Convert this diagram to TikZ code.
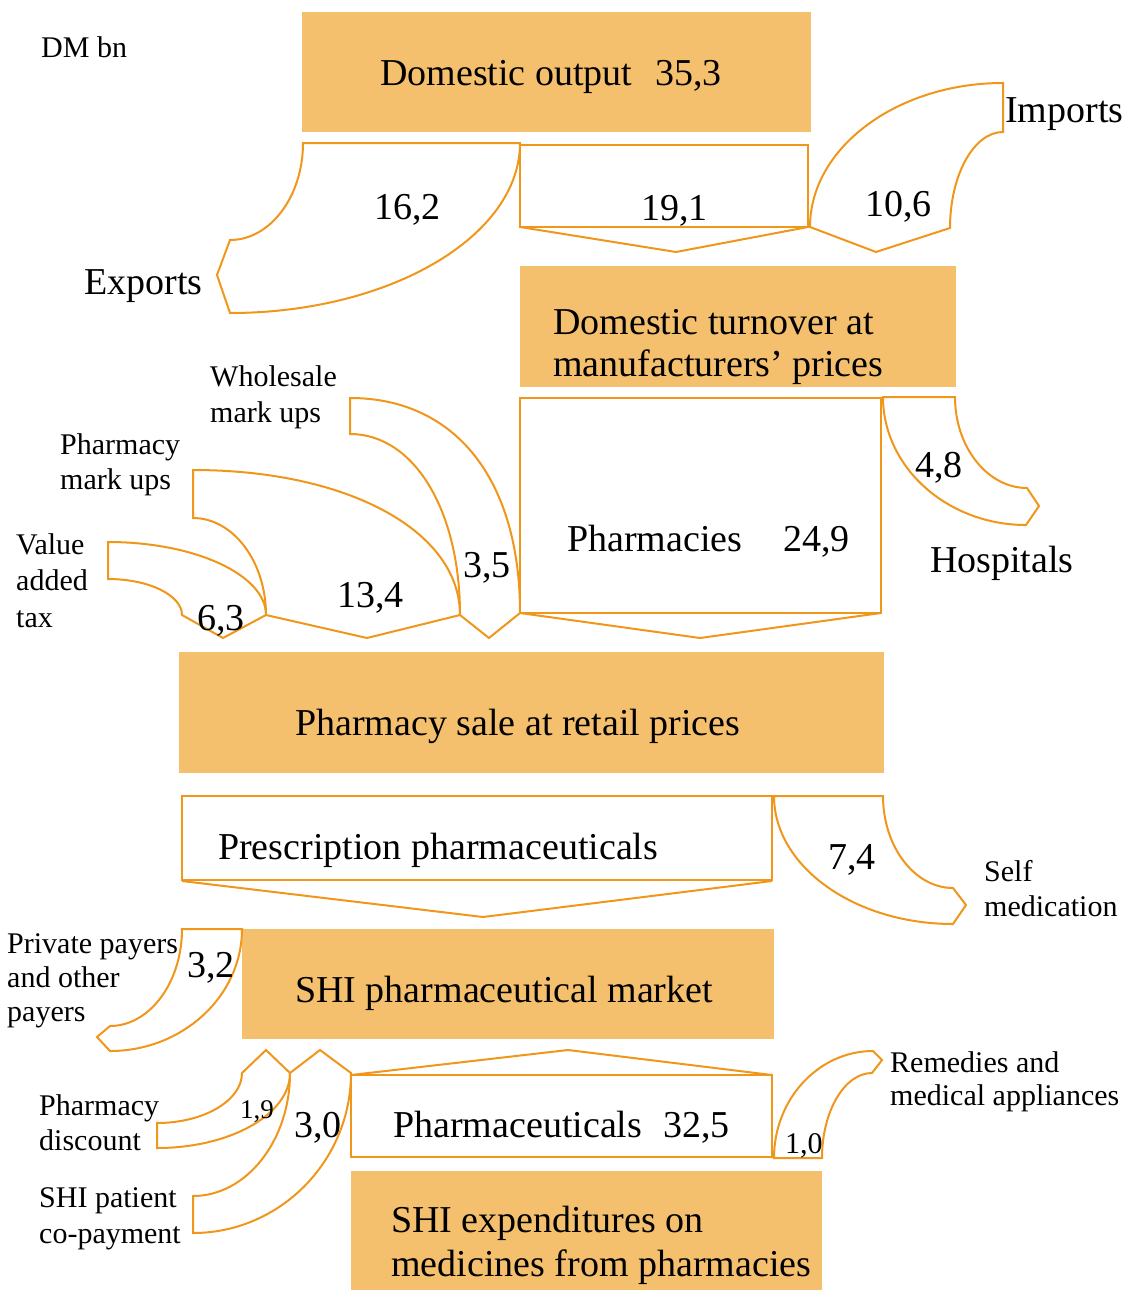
\documentclass[tikz,border=0pt]{standalone}
\usepackage{fontspec}
\setmainfont{Liberation Serif}
\definecolor{boxfill}{HTML}{F5C06E}
\definecolor{flowline}{HTML}{F0961A}
\tikzset{
  panel/.style={fill=boxfill, draw=none},
  flow/.style={draw=flowline, line width=2pt, line join=miter},
  big/.style={inner sep=0pt, anchor=base west, font=\fontsize{38}{43}\selectfont},
  lab/.style={inner sep=0pt, anchor=base west, font=\fontsize{30}{35}\selectfont},
  small/.style={inner sep=0pt, anchor=base west, font=\fontsize{27}{32}\selectfont},
}
\begin{document}
\begin{tikzpicture}[x=1pt,y=-1pt]
\useasboundingbox (0,0) rectangle (1122,1290);

% filled stages
\fill[panel] (302,12) rectangle (811,132);
\fill[panel] (520,266) rectangle (956,387);
\fill[panel] (179,652) rectangle (884,773);
\fill[panel] (242,929) rectangle (774,1039);
\fill[panel] (351,1171) rectangle (822,1290);

% exports
\draw[flow] (303,143) -- (520,143)
  .. controls (520,236.5) and (389.5,313) .. (230,313)
  -- (217,275) -- (230,240)
  .. controls (270.2,240) and (303,196.4) .. (303,143) -- cycle;
% domestic share
\draw[flow] (520,145) rectangle (808,227);
\draw[flow] (520,227) -- (676,252) -- (808,227);
% imports
\draw[flow] (810,227)
  .. controls (810,147.8) and (896.9,83) .. (1003,83)
  -- (1003,132)
  .. controls (973.8,132) and (950,175.2) .. (950,228)
  -- (876,252) -- cycle;

% pharmacies
\draw[flow] (520,398) rectangle (881,613);
\draw[flow] (520,613) -- (700,638) -- (881,613);
% hospitals
\draw[flow] (883,397) -- (955,397)
  .. controls (955,447) and (987.4,488) .. (1027,488)
  -- (1039,506) -- (1026,525)
  .. controls (947.4,525) and (883,467.4) .. (883,397) -- cycle;

% wholesale mark ups
\draw[flow] (350,398)
  .. controls (455.4,398) and (520,479.7) .. (520,613)
  -- (489,638) -- (460,615)
  .. controls (460,510) and (413.8,434) .. (350,434) -- cycle;
% pharmacy mark ups
\draw[flow] (193,470)
  .. controls (347.9,470) and (460,530.9) .. (460,615)
  -- (367,638) -- (266,615)
  .. controls (266,561.7) and (233.2,518) .. (193,518) -- cycle;
% value added tax
\draw[flow] (108,542)
  .. controls (194.9,542) and (266,574.9) .. (266,615)
  -- (223,638) -- (182,615)
  .. controls (182,595.2) and (148.7,579) .. (108,579) -- cycle;

% prescription pharmaceuticals
\draw[flow] (182,796) rectangle (772,880);
\draw[flow] (182,881) -- (483,917) -- (772,881);
% self medication
\draw[flow] (774,796) -- (883,796)
  .. controls (883,846.6) and (914.5,888) .. (953,888)
  -- (966,905) -- (953,924)
  .. controls (854.5,924) and (774,866.4) .. (774,796) -- cycle;

% private payers
\draw[flow] (182,929) -- (242,929)
  .. controls (242,996.1) and (182.6,1051) .. (110,1051)
  -- (97,1037) -- (110,1026)
  .. controls (149.6,1026) and (182,982.4) .. (182,929) -- cycle;
% pharmacy discount
\draw[flow] (242,1073) -- (266,1050) -- (290,1073)
  .. controls (290,1114.3) and (230.2,1148) .. (157,1148)
  -- (157,1123)
  .. controls (203.8,1123) and (242,1100.5) .. (242,1073) -- cycle;
% patient co-payment
\draw[flow] (290,1073) -- (320,1050) -- (351,1073)
  .. controls (351,1161) and (279.9,1233) .. (193,1233)
  -- (193,1196)
  .. controls (246.4,1196) and (290,1140.7) .. (290,1073) -- cycle;
% pharmaceuticals
\draw[flow] (351,1075) rectangle (772,1157);
\draw[flow] (351,1075) -- (568,1050) -- (772,1075);
% remedies and appliances
\draw[flow] (774,1158) -- (822,1158)
  .. controls (822,1111.3) and (844.5,1073) .. (872,1073)
  -- (882,1060) -- (873,1051)
  .. controls (818.5,1051) and (774,1099.2) .. (774,1158) -- cycle;

% texts
\node[lab] (dm) at (41,58) {DM bn};
\node[big] (dout) at (380,85) {Domestic output};
\node[big] (dout353) at (655,85) {35,3};
\node[big] (v162) at (374,219) {16,2};
\node[big] (v191) at (641,220) {19,1};
\node[big] (v106) at (865,216) {10,6};
\node[big] (imp) at (1005,122) {Imports};
\node[big] (expo) at (84,294) {Exports};
\node[big] (dt1) at (553,334) {Domestic turnover at};
\node[big] (dt2) at (553,376) {manufacturers’ prices};
\node[lab] (wh1) at (210,386) {Wholesale};
\node[lab] (wh2) at (210,422) {mark ups};
\node[lab] (pm1) at (60,454) {Pharmacy};
\node[lab] (pm2) at (60,489) {mark ups};
\node[lab] (va1) at (16,554) {Value};
\node[lab] (va2) at (16,590) {added};
\node[lab] (va3) at (16,627) {tax};
\node[big] (ph) at (567,551) {Pharmacies};
\node[big] (ph249) at (783,551) {24,9};
\node[big] (v48) at (915,477) {4,8};
\node[big] (hosp) at (930,572) {Hospitals};
\node[big] (v63) at (197,630) {6,3};
\node[big] (v134) at (337,607) {13,4};
\node[big] (v35) at (463,577) {3,5};
\node[big] (sale) at (295,735) {Pharmacy sale at retail prices};
\node[big] (presc) at (218,859) {Prescription pharmaceuticals};
\node[big] (v74) at (828,869) {7,4};
\node[lab] (sm1) at (984,881) {Self};
\node[lab] (sm2) at (984,916) {medication};
\node[lab] (pp1) at (7,953) {Private payers};
\node[lab] (pp2) at (7,987) {and other};
\node[lab] (pp3) at (7,1021) {payers};
\node[big] (v32) at (187,977) {3,2};
\node[big] (shi) at (295,1002) {SHI pharmaceutical market};
\node[lab] (pd1) at (39,1115) {Pharmacy};
\node[lab] (pd2) at (39,1150) {discount};
\node[lab] (cp1) at (39,1207) {SHI patient};
\node[lab] (cp2) at (39,1243) {co-payment};
\node[small] (v19) at (240,1118) {1,9};
\node[big] (v30) at (294,1137) {3,0};
\node[big] (pharm) at (393,1137) {Pharmaceuticals};
\node[big] (v325) at (663,1137) {32,5};
\node[big] (ex1) at (391,1232) {SHI expenditures on};
\node[big] (ex2) at (391,1276) {medicines from pharmacies};
\node[lab] (v10) at (785,1153) {1,0};
\node[lab] (rm1) at (890,1072) {Remedies and};
\node[lab] (rm2) at (890,1105) {medical appliances};
\end{tikzpicture}
\end{document}
